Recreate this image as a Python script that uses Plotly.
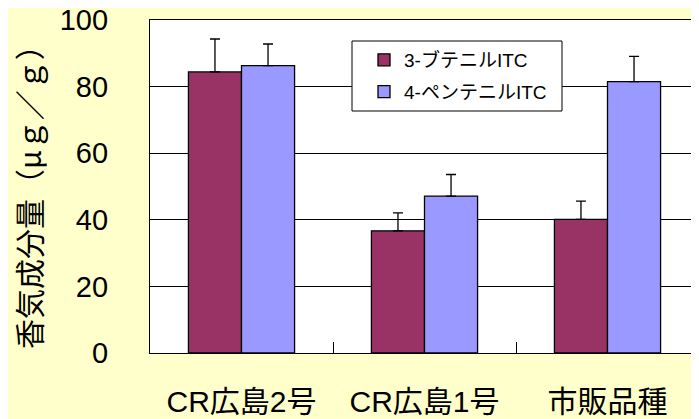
import plotly.graph_objects as go

categories = ["CR広島2号", "CR広島1号", "市販品種"]
series_names = ["3-ブテニルITC", "4-ペンテニルITC"]
butenyl = [84.4, 36.7, 40.1]
butenyl_err = [9.9, 5.4, 5.5]
pentenyl = [86.3, 47.1, 81.5]
pentenyl_err = [6.5, 6.5, 7.6]
y_ticks = [0, 20, 40, 60, 80, 100]

base_font = "Liberation Sans, Noto Sans CJK JP, sans-serif"

# page is offset by the browser's 8px body margin
OFF = 8
W, H = 699, 419
L, T, B, R = 150 - OFF, 20 - OFF, 66 + OFF, OFF
plot_w = W - L - R
plot_h = H - T - B

def px_x(x):
    return (x - OFF - L) / plot_w

def px_y(y):
    return (H - B - (y - OFF)) / plot_h

fig = go.Figure()
for i, (name, vals, errs, color) in enumerate([
    (series_names[0], butenyl, butenyl_err, "#993366"),
    (series_names[1], pentenyl, pentenyl_err, "#9999FF"),
]):
    fig.add_trace(go.Bar(
        x=categories, y=vals, name=name, legendgroup=str(i),
        marker=dict(color=color, line=dict(color="black", width=1.3)),
        error_y=dict(type="data", array=errs, arrayminus=[0] * len(errs),
                     symmetric=False, color="black", thickness=1.3, width=5),
    ))

fig.update_layout(
    width=W, height=H,
    margin=dict(l=L, r=R, t=T, b=B, autoexpand=False),
    paper_bgcolor="#FFFFCC",
    plot_bgcolor="white",
    barmode="group",
    bargap=0.42,
    bargroupgap=0,
    font=dict(family=base_font, color="black"),
    showlegend=True,
    legend=dict(
        x=px_x(364), y=px_y(41),
        xanchor="left", yanchor="top",
        bgcolor="rgba(0,0,0,0)", borderwidth=0,
        font=dict(size=19, family=base_font),
        itemwidth=30,
        tracegroupgap=4,
    ),
    shapes=[dict(
        type="rect", xref="paper", yref="paper",
        x0=px_x(352), x1=px_x(562), y0=px_y(111), y1=px_y(41),
        fillcolor="white", line=dict(color="black", width=1), layer="above",
    )],
    xaxis=dict(
        automargin=False,
        showline=True, linecolor="black", linewidth=1.3, mirror=True,
        ticks="inside", tickson="boundaries", ticklen=11, tickcolor="black",
        tickfont=dict(size=30, family=base_font),
        ticklabelstandoff=22,
        showgrid=False,
    ),
    yaxis=dict(
        automargin=False,
        range=[0, 100], tickvals=y_ticks,
        showline=True, linecolor="black", linewidth=1.3,
        showgrid=True, gridcolor="black", gridwidth=1,
        ticks="", tickfont=dict(size=29, family=base_font),
        ticklabelstandoff=35,
        ticklabeloverflow="allow",
        zeroline=False,
    ),
    annotations=[dict(
        text="香気成分量（μｇ／ｇ）", xref="paper", yref="paper",
        x=px_x(28), y=px_y(190),
        xanchor="center", yanchor="middle", textangle=-90, showarrow=False,
        font=dict(size=30, family="Noto Sans CJK JP"),
    )],
)

fig.write_html("out.html")
